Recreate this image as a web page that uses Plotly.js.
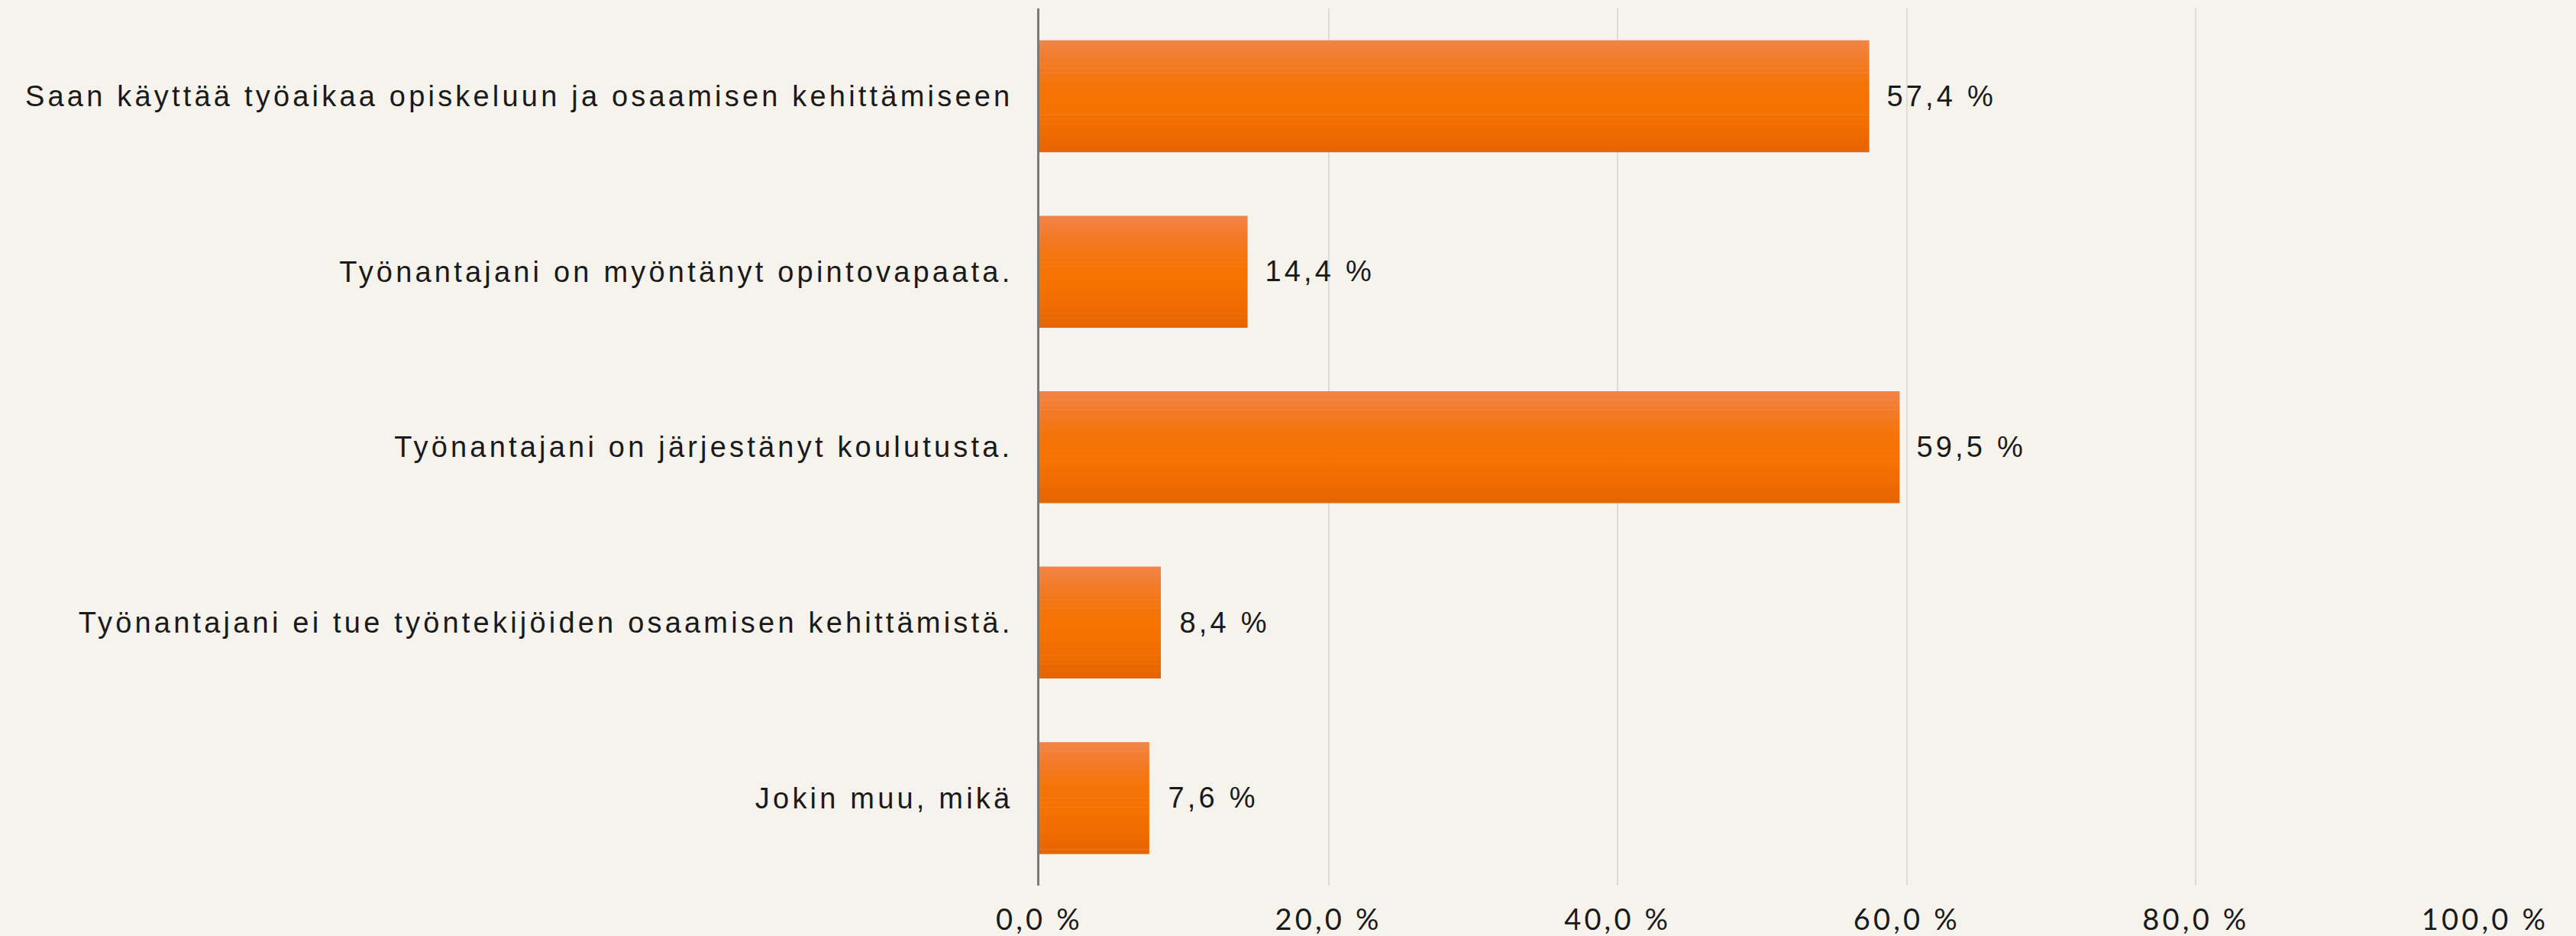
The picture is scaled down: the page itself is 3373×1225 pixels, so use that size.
<!DOCTYPE html>
<html>
<head>
<meta charset="utf-8">
<script src="https://cdn.plot.ly/plotly-3.0.1.min.js"></script>
<style>
  html, body { margin: 0; padding: 0; background: #F6F2EC; }
  #chart { width: 3373px; height: 1225px; }
  #chart text { letter-spacing: 4.2px; }
</style>
</head>
<body>
<div id="chart"></div>
<script>
// ---- data ----
const categories = [
  "Saan käyttää työaikaa opiskeluun ja osaamisen kehittämiseen",
  "Työnantajani on myöntänyt opintovapaata.",
  "Työnantajani on järjestänyt koulutusta.",
  "Työnantajani ei tue työntekijöiden osaamisen kehittämistä.",
  "Jokin muu, mikä"
];
const values = [57.4, 14.4, 59.5, 8.4, 7.6];
const valueLabels = ["57,4 %", "14,4 %", "59,5 %", "8,4 %", "7,6 %"];
const tickValues = [0, 20, 40, 60, 80, 100];
const tickLabels = ["0,0 %", "20,0 %", "40,0 %", "60,0 %", "80,0 %", "100,0 %"];

// ---- style: vertical gradient emulated with stacked bands ----
const barThickness = 0.636;
const gradientStops = [
  [242, 132, 72], [243, 122, 38], [245, 116, 8], [246, 114, 0],
  [240, 108, 0], [230, 100, 0]
];
const nBands = 24;
function bandColor(t) {
  const seg = t * (gradientStops.length - 1);
  const i = Math.min(Math.floor(seg), gradientStops.length - 2);
  const f = seg - i;
  const a = gradientStops[i], b = gradientStops[i + 1];
  const c = a.map((v, k) => Math.round(v + (b[k] - v) * f));
  return `rgb(${c[0]},${c[1]},${c[2]})`;
}

const traces = [];
const bw = barThickness / nBands;
for (let i = 0; i < nBands; i++) {
  traces.push({
    type: 'bar',
    orientation: 'h',
    x: values,
    y: categories,
    width: bw * 1.08,
    offset: -barThickness / 2 + i * bw,
    marker: { color: bandColor((i + 0.5) / nBands), line: { width: 0 } },
    hoverinfo: 'skip',
    showlegend: false
  });
}

const annotations = values.map((v, i) => ({
  x: v, y: categories[i], xref: 'x', yref: 'y',
  text: valueLabels[i], showarrow: false,
  xanchor: 'left', yanchor: 'middle', xshift: 33,
  font: { family: 'Liberation Sans, Arial, sans-serif', size: 38, color: '#1a1a1a' }
}));

const layout = {
  width: 3373, height: 1225,
  paper_bgcolor: '#F6F2EC', plot_bgcolor: '#F6F2EC',
  margin: { l: 1361, r: 119, t: 11, b: 66 },
  barmode: 'overlay',
  showlegend: false,
  xaxis: {
    range: [0, 100], tickvals: tickValues, ticktext: tickLabels,
    showgrid: true, gridcolor: '#DEDCD8', gridwidth: 2,
    zeroline: false, showline: false, ticks: '', ticklabelstandoff: 19,
    tickfont: { family: 'Lato, Liberation Sans, sans-serif', size: 38, color: '#1a1a1a' },
    fixedrange: true
  },
  yaxis: {
    type: 'category', autorange: 'reversed',
    showgrid: false, zeroline: false,
    showline: true, linecolor: '#7a7a7a', linewidth: 3,
    ticks: '', ticklabelstandoff: 24,
    tickfont: { family: 'Liberation Sans, Arial, sans-serif', size: 38, color: '#1a1a1a' },
    fixedrange: true
  },
  annotations: annotations
};

Plotly.newPlot('chart', traces, layout, { staticPlot: true, displayModeBar: false });
</script>
</body>
</html>
